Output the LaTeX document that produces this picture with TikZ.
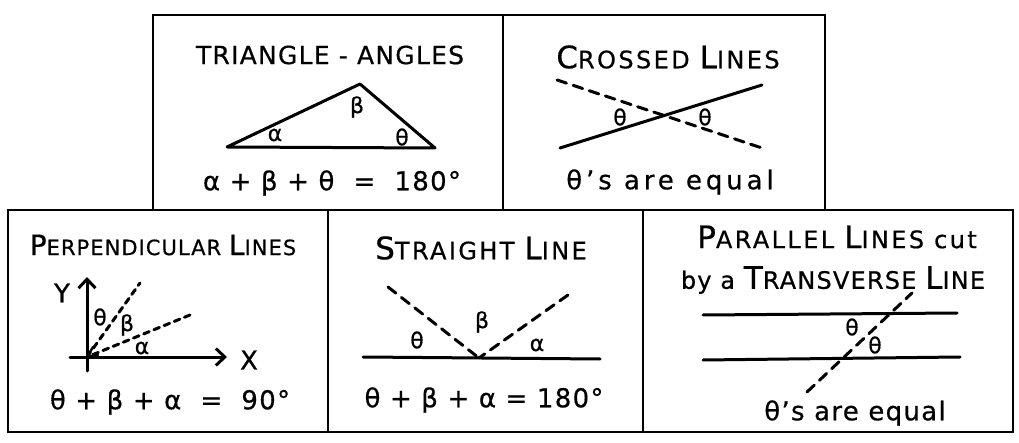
\documentclass[tikz,border=0pt]{standalone}
\usepackage{fontspec}
\setmainfont{DejaVu Sans}[LetterSpace=5, FakeBold=0.6]
\usetikzlibrary{arrows.meta, calc}

% capital letters of the small-caps titles
\newcommand\bigcapital[1]{{\fontsize{28}{32}\selectfont #1}}
\newcommand\widecapital[1]{{\fontsize{31}{35}\selectfont #1}}

\begin{document}
\begin{tikzpicture}[x=1pt, y=-1pt, line width=3pt, line cap=round,
  every node/.style={inner sep=0pt, font=\fontsize{21}{25}\selectfont},
  widetitle/.style={font=\fontsize{24}{28}\selectfont\addfontfeature{LetterSpace=10}},
  panel/.style={draw, line width=2.6pt, line cap=rect},
  eqn/.style={font=\fontsize{26}{30}\selectfont},
  wideeqn/.style={font=\fontsize{26}{30}\selectfont\addfontfeature{LetterSpace=15}},
  sym/.style={font=\fontsize{22}{26}\selectfont},
  longdash/.style={dash pattern=on 10pt off 7pt},
  shortdash/.style={dash pattern=on 6pt off 5pt},
  axis/.style={-{Straight Barb[length=9pt, width=17pt, line width=3pt]}}]
  \useasboundingbox (0,0) rectangle (1019,443);

  % Triangle - angles
  \draw[panel] (153,15) rectangle (503,210);
  \node (triTitle) at (330,55) {\fontsize{25}{30}\selectfont TRIANGLE - ANGLES};
  \coordinate (triA) at (227,147);
  \coordinate (triB) at (360,84);
  \coordinate (triC) at (435,148);
  \draw[line join=round] (triA) -- (triB) -- (triC) -- cycle;
  \node[sym] (triBeta) at (357,107) {β};
  \node[sym] (triAlpha) at (275,135) {α};
  \node[sym] (triTheta) at (402,137) {θ};
  \node[eqn] (triEq) at (332,183) {α + β + θ \ = \ 180°};

  % Crossed lines
  \draw[panel] (503,15) rectangle (825,210);
  \node[widetitle] (crTitle) at (668,57) {\widecapital{C}ROSSED \widecapital{L}INES};
  \coordinate (crSolidA) at (560,148);
  \coordinate (crSolidB) at (762,85);
  \coordinate (crDashA) at (557,80);
  \coordinate (crDashB) at (762,148);
  \draw (crSolidA) -- (crSolidB);
  \draw[longdash] (crDashA) -- (crDashB);
  \node[sym] (crThetaL) at (620,117) {θ};
  \node[sym] (crThetaR) at (705,117) {θ};
  \node[wideeqn] (crEq) at (670,182) {θ's are equal};

  % Perpendicular lines
  \draw[panel] (8,210) rectangle (328,432);
  \node (peTitle) at (163,245) {\bigcapital{P}ERPENDICULAR \bigcapital{L}INES};
  \coordinate (peO) at (87,357);
  \coordinate (peYtop) at (87,277);
  \coordinate (peYbot) at (87,371);
  \coordinate (peXleft) at (70,357);
  \coordinate (peXright) at (227,357);
  \coordinate (peSteep) at (140,283);
  \coordinate (peFlat) at (190,315);
  \draw[axis] (peYbot) -- (peYtop);
  \draw[axis] (peXleft) -- (peXright);
  \draw[shortdash] (peO) -- (peSteep);
  \draw[shortdash] (peFlat) -- (peO);
  \draw[line width=2.4pt] ($(peO)+(6,-10)$) -- (peO) -- ($(peO)+(11,-2)$);
  \node[eqn] (peY) at (62,293) {Y};
  \node[eqn] (peX) at (249,360) {X};
  \node[sym] (peTheta) at (100,317) {θ};
  \node[sym] (peBeta) at (127,325) {β};
  \node[sym] (peAlpha) at (142,348) {α};
  \node[eqn] (peEq) at (170,402) {θ + β + α \ = \ 90°};

  % Straight line
  \draw[panel] (328,210) rectangle (643,432);
  \node[widetitle] (stTitle) at (481,248) {\widecapital{S}TRAIGHT \widecapital{L}INE};
  \coordinate (stLeft) at (363,357);
  \coordinate (stRight) at (600,359);
  \coordinate (stMid) at (479,358);
  \coordinate (stDashL) at (388,287);
  \coordinate (stDashR) at (568,295);
  \draw (stLeft) -- (stRight);
  \draw[longdash] (stDashL) -- (stMid);
  \draw[longdash] (stDashR) -- (stMid);
  \node[sym] (stTheta) at (417,340) {θ};
  \node[sym] (stBeta) at (482,322) {β};
  \node[sym] (stAlpha) at (537,345) {α};
  \node[eqn] (stEq) at (484,400) {θ + β + α = 180°};

  % Parallel lines cut by a transverse line
  \draw[panel] (643,210) rectangle (1013,432);
  \node[widetitle] (paTitleA) at (837,237) {\widecapital{P}ARALLEL \widecapital{L}INES cut};
  \node[font=\fontsize{24}{28}\selectfont] (paTitleB) at (833,280) {by a \widecapital{T}RANSVERSE \widecapital{L}INE};
  \coordinate (paTopA) at (703,315);
  \coordinate (paTopB) at (957,313);
  \coordinate (paBotA) at (703,360);
  \coordinate (paBotB) at (960,357);
  \coordinate (paCutA) at (807,392);
  \coordinate (paCutB) at (912,293);
  \draw (paTopA) -- (paTopB);
  \draw (paBotA) -- (paBotB);
  \draw[longdash] (paCutA) -- (paCutB);
  \node[sym] (paThetaA) at (852,327) {θ};
  \node[sym] (paThetaB) at (875,345) {θ};
  \node[eqn] (paEq) at (855,413) {θ's are equal};
\end{tikzpicture}
\end{document}
